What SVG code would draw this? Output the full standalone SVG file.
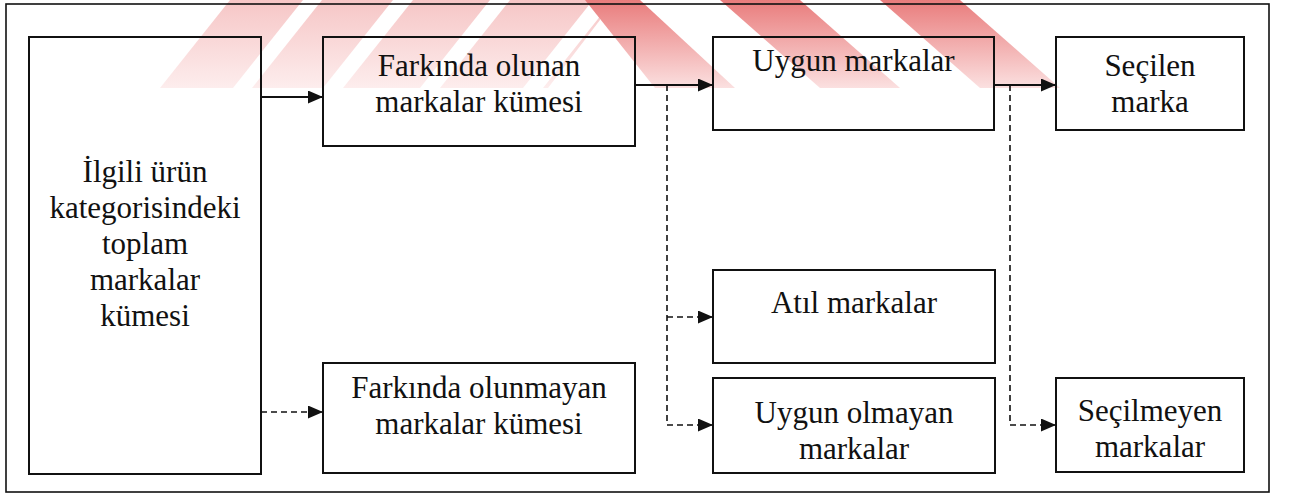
<svg xmlns="http://www.w3.org/2000/svg" width="1291" height="495" viewBox="0 0 1291 495">
  <style>
    .box { fill: none; stroke: #111; stroke-width: 2; }
    .frame { fill: none; stroke: #111; stroke-width: 1.6; }
    .lbl { font-family: "Liberation Serif", "Times New Roman", serif; font-size: 31px; fill: #111; text-anchor: middle; }
    .solid { fill: none; stroke: #111; stroke-width: 2; }
    .dash { fill: none; stroke: #111; stroke-width: 1.6; stroke-dasharray: 6 4; }
  </style>
  <defs>
    <marker id="ah" markerUnits="userSpaceOnUse" markerWidth="15" markerHeight="13" refX="15" refY="6.5" orient="auto">
      <path d="M0,0 L15,6.5 L0,13 z" fill="#111"/>
    </marker>
    <linearGradient id="wmL" x1="0" y1="0" x2="0" y2="1">
      <stop offset="0" stop-color="#f6c6c6"/>
      <stop offset="1" stop-color="#fdeded"/>
    </linearGradient>
    <linearGradient id="wmR" x1="0" y1="0" x2="0" y2="1">
      <stop offset="0" stop-color="#e97c7c"/>
      <stop offset="1" stop-color="#fbe0e0"/>
    </linearGradient>
    <clipPath id="band">
      <rect x="150" y="0" width="920" height="88"/>
    </clipPath>
  </defs>

  <g id="watermark" clip-path="url(#band)">
    <g fill="url(#wmL)">
      <polygon points="230,0 303,0 233,88 160,88"/>
      <polygon points="322,0 393,0 323,88 252,88"/>
      <polygon points="413,0 490,0 420,88 343,88"/>
      <polygon points="510,0 593,0 523,88 440,88"/>
      <polygon points="613,0 600,0 600,20 548,88 543,88"/>
    </g>
    <g fill="url(#wmR)">
      <polygon points="585,0 640,0 735,88 655,88"/>
      <polygon points="720,0 800,0 900,88 820,88"/>
      <polygon points="880,0 960,0 1060,88 980,88"/>
    </g>
  </g>

  <rect class="frame" x="6" y="4" width="1263" height="488"/>

  <g id="connectors">
    <path class="solid" d="M261,97 H323" marker-end="url(#ah)"/>
    <path class="solid" d="M635,85 H713" marker-end="url(#ah)"/>
    <path class="solid" d="M994,85 H1056" marker-end="url(#ah)"/>
    <path class="dash" d="M667,85 V425"/>
    <path class="dash" d="M667,317 H713" marker-end="url(#ah)"/>
    <path class="dash" d="M667,425 H713" marker-end="url(#ah)"/>
    <path class="dash" d="M1010,85 V425"/>
    <path class="dash" d="M1010,425 H1056" marker-end="url(#ah)"/>
    <path class="dash" d="M261,412 H323" marker-end="url(#ah)"/>
  </g>

  <g id="toplam">
    <rect class="box" x="29" y="37" width="232" height="437"/>
    <text class="lbl" x="145" y="182">İlgili ürün</text>
    <text class="lbl" x="145" y="218">kategorisindeki</text>
    <text class="lbl" x="145" y="254">toplam</text>
    <text class="lbl" x="145" y="290">markalar</text>
    <text class="lbl" x="145" y="326">kümesi</text>
  </g>

  <g id="farkinda">
    <rect class="box" x="323" y="37" width="312" height="109"/>
    <text class="lbl" x="479" y="76">Farkında olunan</text>
    <text class="lbl" x="479" y="112">markalar kümesi</text>
  </g>

  <g id="farkinda-olunmayan">
    <rect class="box" x="323" y="363" width="312" height="110"/>
    <text class="lbl" x="479" y="398">Farkında olunmayan</text>
    <text class="lbl" x="479" y="434">markalar kümesi</text>
  </g>

  <g id="uygun">
    <rect class="box" x="713" y="37" width="281" height="93"/>
    <text class="lbl" x="853.5" y="71">Uygun markalar</text>
  </g>

  <g id="atil">
    <rect class="box" x="713" y="270" width="282" height="93"/>
    <text class="lbl" x="854" y="313">Atıl markalar</text>
  </g>

  <g id="uygun-olmayan">
    <rect class="box" x="713" y="378" width="282" height="95"/>
    <text class="lbl" x="854" y="423">Uygun olmayan</text>
    <text class="lbl" x="854" y="459">markalar</text>
  </g>

  <g id="secilen">
    <rect class="box" x="1056" y="37" width="188" height="93"/>
    <text class="lbl" x="1150" y="76">Seçilen</text>
    <text class="lbl" x="1150" y="112">marka</text>
  </g>

  <g id="secilmeyen">
    <rect class="box" x="1056" y="378" width="188" height="94"/>
    <text class="lbl" x="1150" y="421">Seçilmeyen</text>
    <text class="lbl" x="1150" y="457">markalar</text>
  </g>
</svg>
